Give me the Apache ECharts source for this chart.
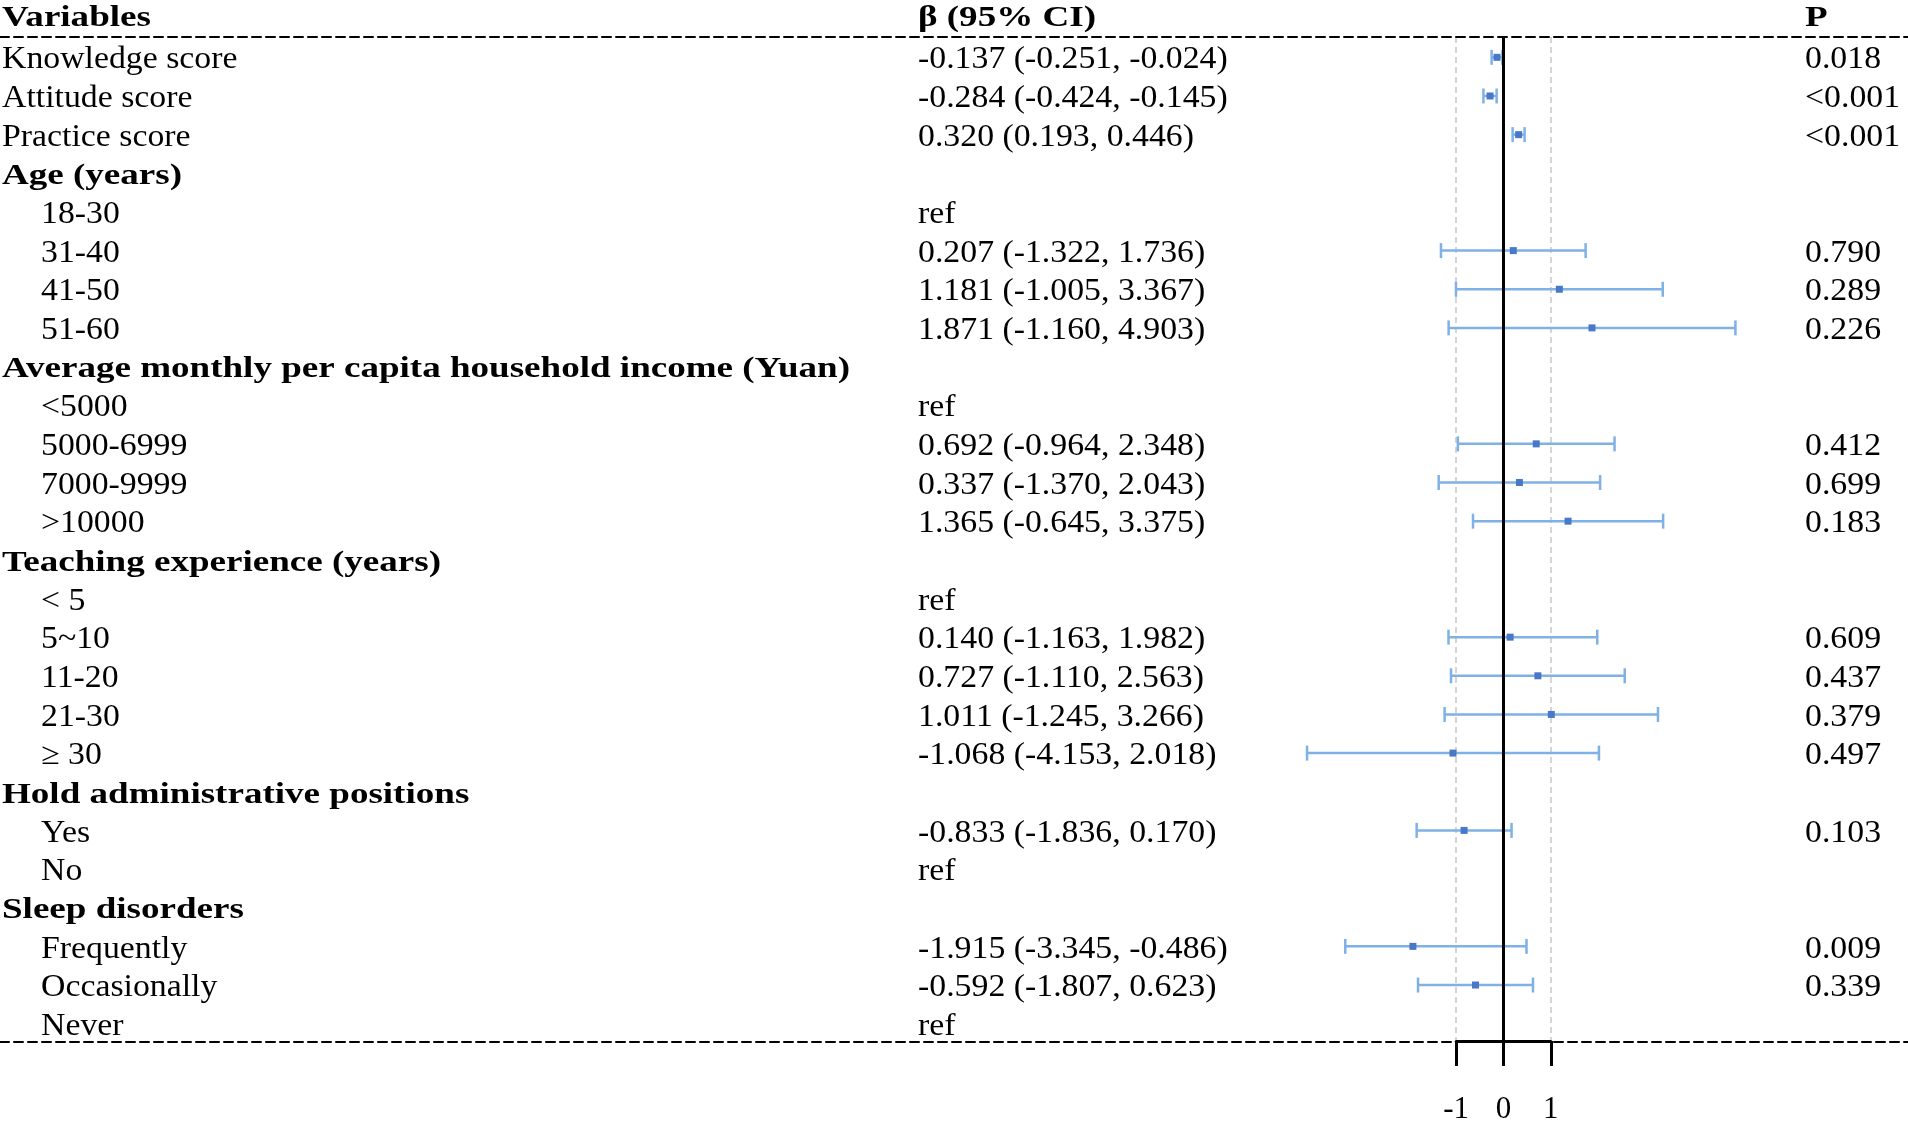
<!DOCTYPE html>
<html>
<head>
<meta charset="utf-8">
<script src="https://cdn.jsdelivr.net/npm/echarts@6/dist/echarts.min.js"></script>
<style>html,body{margin:0;padding:0;background:#fff;}#chart{width:1908px;height:1125px;}</style>
</head>
<body>
<div id="chart"></div>
<script>
// ---------- DATA ----------
const variables = [
  'Knowledge score', 'Attitude score', 'Practice score',
  'Age (years)', '18-30', '31-40', '41-50', '51-60',
  'Average monthly per capita household income (Yuan)', '<5000', '5000-6999', '7000-9999', '>10000',
  'Teaching experience (years)', '< 5', '5~10', '11-20', '21-30', '\u2265 30',
  'Hold administrative positions', 'Yes', 'No',
  'Sleep disorders', 'Frequently', 'Occasionally', 'Never'
];
// 0 = top-level item, 1 = group header (bold), 2 = indented sub-item
const rowLevel = [0,0,0, 1,2,2,2,2, 1,2,2,2,2, 1,2,2,2,2,2, 1,2,2, 1,2,2,2];
// 'ref' rows and header rows carry null
const beta  = [-0.137,-0.284,0.320, null,'ref',0.207,1.181,1.871, null,'ref',0.692,0.337,1.365, null,'ref',0.140,0.727,1.011,-1.068, null,-0.833,'ref', null,-1.915,-0.592,'ref'];
const lower = [-0.251,-0.424,0.193, null,null,-1.322,-1.005,-1.160, null,null,-0.964,-1.370,-0.645, null,null,-1.163,-1.110,-1.245,-4.153, null,-1.836,null, null,-3.345,-1.807,null];
const upper = [-0.024,-0.145,0.446, null,null,1.736,3.367,4.903, null,null,2.348,2.043,3.375, null,null,1.982,2.563,3.266,2.018, null,0.170,null, null,-0.486,0.623,null];
// upper CI ends as they are drawn in the source figure (the "Frequently" bar is drawn to +0.486)
const plotUpper = [-0.024,-0.145,0.446, null,null,1.736,3.367,4.903, null,null,2.348,2.043,3.375, null,null,1.982,2.563,3.266,2.018, null,0.170,null, null,0.486,0.623,null];
const pValues = ['0.018','<0.001','<0.001', '','','0.790','0.289','0.226', '','','0.412','0.699','0.183', '','','0.609','0.437','0.379','0.497', '','0.103','', '','0.009','0.339',''];
const headers = ['Variables', '\u03b2 (95% CI)', 'P'];
const xTicks = [-1, 0, 1];

// ---------- LAYOUT ----------
const W = 1908, H = 1125;
const gridTop = 37, gridBottom = 83;
const zeroX = 1503.5, unitPx = 47.3;
const xMin = -5, xMax = 5;
const colX = { var: 2, indent: 41, beta: 918, p: 1805 };
const FONT = '"Liberation Serif","Times New Roman",serif';
const regSize = 31, boldSize = 30;
const regScale = 1.09, boldScale = 1.235;
const headerY = 18, textDy = 4;

const rowIdx = variables.map((_, i) => i);

function betaText(i) {
  if (beta[i] === 'ref') return 'ref';
  if (beta[i] === null) return '';
  return beta[i].toFixed(3) + ' (' + lower[i].toFixed(3) + ', ' + upper[i].toFixed(3) + ')';
}

function txt(x, y, s, bold) {
  return {
    type: 'text', x: x, y: y,
    scaleX: bold ? boldScale : regScale,
    style: {
      text: s, x: 0, y: 0,
      font: (bold ? 'bold ' : '') + (bold ? boldSize : regSize) + 'px ' + FONT,
      fill: '#000', textAlign: 'left', textVerticalAlign: 'middle', align: 'left', verticalAlign: 'middle'
    }
  };
}

const forestData = [];
rowIdx.forEach(i => {
  if (typeof beta[i] === 'number') forestData.push([i, beta[i], lower[i], plotUpper[i]]);
});

const chart = echarts.init(document.getElementById('chart'));
const option = {
  backgroundColor: '#fff',
  animation: false,
  graphic: headers.map((h, k) => txt([colX.var, colX.beta, colX.p][k], headerY, h, true)),
  grid: [
    { left: 0, right: 0, top: gridTop, bottom: gridBottom },
    { left: zeroX + xMin * unitPx, right: W - (zeroX + xMax * unitPx), top: gridTop, bottom: gridBottom },
    { left: zeroX - unitPx, right: W - (zeroX + unitPx), top: gridTop, bottom: gridBottom }
  ],
  xAxis: [
    { gridIndex: 0, type: 'value', min: 0, max: 1, position: 'top',
      axisLine: { show: true, lineStyle: { color: '#000', width: 2, type: [9, 5] } },
      axisTick: { show: false }, axisLabel: { show: false }, splitLine: { show: false } },
    { gridIndex: 0, type: 'value', min: 0, max: 1, position: 'bottom',
      axisLine: { show: true, lineStyle: { color: '#000', width: 2, type: [9, 5] } },
      axisTick: { show: false }, axisLabel: { show: false }, splitLine: { show: false } },
    { gridIndex: 1, type: 'value', min: xMin, max: xMax, show: false },
    { gridIndex: 2, type: 'value', min: xTicks[0], max: xTicks[xTicks.length - 1], interval: 1, position: 'bottom',
      axisLine: { show: true, lineStyle: { color: '#000', width: 3 } },
      axisTick: { show: true, inside: false, length: 25, lineStyle: { color: '#000', width: 3 } },
      axisLabel: { show: true, margin: 53, color: '#000', fontSize: 31, fontFamily: FONT },
      splitLine: { show: true, lineStyle: { color: '#c8c8c8', width: 1.5, type: [6, 4] } } }
  ],
  yAxis: [0, 1, 2].map(g => ({
    gridIndex: g, type: 'category', data: rowIdx, inverse: true, show: false
  })),
  series: [
    {
      type: 'custom', xAxisIndex: 0, yAxisIndex: 0, data: rowIdx.map(i => [0, i]),
      encode: { x: 0, y: 1 }, silent: true,
      renderItem: function (params, api) {
        const i = api.value(1);
        const y = api.coord([0, i])[1] + textDy;
        const lvl = rowLevel[i];
        const children = [
          txt(lvl === 2 ? colX.indent : colX.var, y, variables[i], lvl === 1),
          txt(colX.beta, y, betaText(i), false),
          txt(colX.p, y, pValues[i], false)
        ];
        return { type: 'group', children: children };
      }
    },
    {
      type: 'custom', xAxisIndex: 2, yAxisIndex: 1, data: forestData,
      encode: { x: [1, 2, 3], y: 0 }, silent: true, z: 3,
      renderItem: function (params, api) {
        const i = api.value(0);
        const pb = api.coord([api.value(1), i]);
        const pl = api.coord([api.value(2), i]);
        const ph = api.coord([api.value(3), i]);
        const y = pb[1] + 1, cap = 7.5, sq = 7;
        const ls = { stroke: '#7fb1e6', lineWidth: 2.5 };
        return { type: 'group', children: [
          { type: 'line', shape: { x1: pl[0], y1: y, x2: ph[0], y2: y }, style: ls },
          { type: 'line', shape: { x1: pl[0], y1: y - cap, x2: pl[0], y2: y + cap }, style: ls },
          { type: 'line', shape: { x1: ph[0], y1: y - cap, x2: ph[0], y2: y + cap }, style: ls },
          { type: 'rect', shape: { x: pb[0] - sq / 2, y: y - sq / 2, width: sq, height: sq }, style: { fill: '#4a78c8' } }
        ]};
      }
    },
    {
      type: 'line', xAxisIndex: 3, yAxisIndex: 2, data: [], silent: true, z: 5,
      markLine: { silent: true, symbol: ['none', 'none'], label: { show: false },
        lineStyle: { color: '#000', width: 3, type: 'solid' },
        data: [{ xAxis: 0 }] }
    }
  ]
};
chart.setOption(option);
</script>
</body>
</html>
